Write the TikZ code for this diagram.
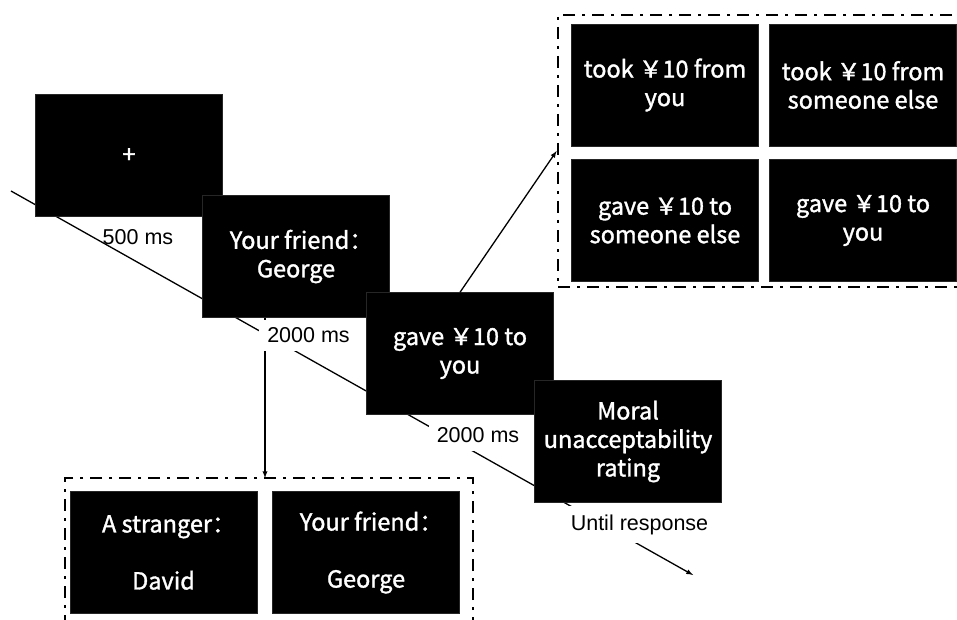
\documentclass[tikz,border=0pt]{standalone}
\usepackage{fontspec}
\setmainfont{Liberation Sans}
\newfontfamily\cjk[FakeBold=1.4]{Noto Sans CJK SC}
\usepackage{tikz}

\newcommand\wcolon{：\kern-0.45em}

\tikzset{
  screenbox/.style={fill=black, draw=black!85, text=white, minimum width=187pt, minimum height=122pt, inner sep=0pt, align=center, font=\cjk\fontsize{23.5}{28.5}\selectfont},
  choicebox/.style={draw, line width=2.8pt, dash pattern=on 12pt off 7pt on 3pt off 7pt, minimum width=#1, inner sep=0pt},
  timing/.style={font=\fontsize{21.5}{25}\selectfont, inner sep=2pt}
}

\begin{document}
\begin{tikzpicture}[x=1pt,y=1pt,yscale=-1,xscale=1]
            \useasboundingbox (0,0) rectangle (957,620);
            \clip (0,0) rectangle (957,620);
            
            %Time line
            \coordinate (tstart) at (11,191);
            \coordinate (tend) at (693,575);
            \draw [line width=1.3pt] [-latex] (tstart) -- (tend);
            
            %Dashed frames
            \node [choicebox=409pt, minimum height=272pt] (choices) at (762.5,151) {};
            \node [choicebox=408pt, minimum height=149pt] (faces) at (269,552.5) {};
            
            %Trial screens
            \node [screenbox] (fixation) at (129,155.5) {+};
            \node [screenbox] (friend) at (296,256.5) {Your friend\wcolon\\George};
            \node [screenbox] (deed) at (460,353.5) {gave ￥10 to\\you};
            \node [screenbox] (rating) at (628,441.5) {Moral\\unacceptability\\rating};
            
            %Choices of deeds
            \node [screenbox] (tookyou) at (665,85) {took ￥10 from\\you};
            \node [screenbox] (tookelse) at (863,85) {took ￥10 from\\someone else};
            \node [screenbox] (gaveelse) at (665,220.5) {gave ￥10 to\\someone else};
            \node [screenbox] (gaveyou) at (863,220.5) {gave ￥10 to\\you};
            
            %Choices of agents
            \node [screenbox] (stranger) at (163.5,552.5) {A stranger\wcolon\\ \\David};
            \node [screenbox] (friendagain) at (366,552.5) {Your friend\wcolon\\ \\George};
            
            %Arrows to the frames
            \coordinate (drop) at (265,478);
            \draw [line width=1.3pt] [-latex] (friend.south -| drop) -- (drop);
            \draw [line width=1.3pt] [-latex] (deed.north) -- (choices.west);
            
            % Text Node
            \node [timing] (t500) at (138,237) {500 ms};
            % Text Node
            \node [timing, fill=white, inner sep=8pt] (t2000a) at (308.5,335.5) {2000 ms};
            % Text Node
            \node [timing, fill=white, inner sep=8pt] (t2000b) at (478,435) {2000 ms};
            % Text Node
            \node [timing, fill=white, inner sep=8pt] (tuntil) at (639.5,524.5) {Until response};
            
\end{tikzpicture}
\end{document}
